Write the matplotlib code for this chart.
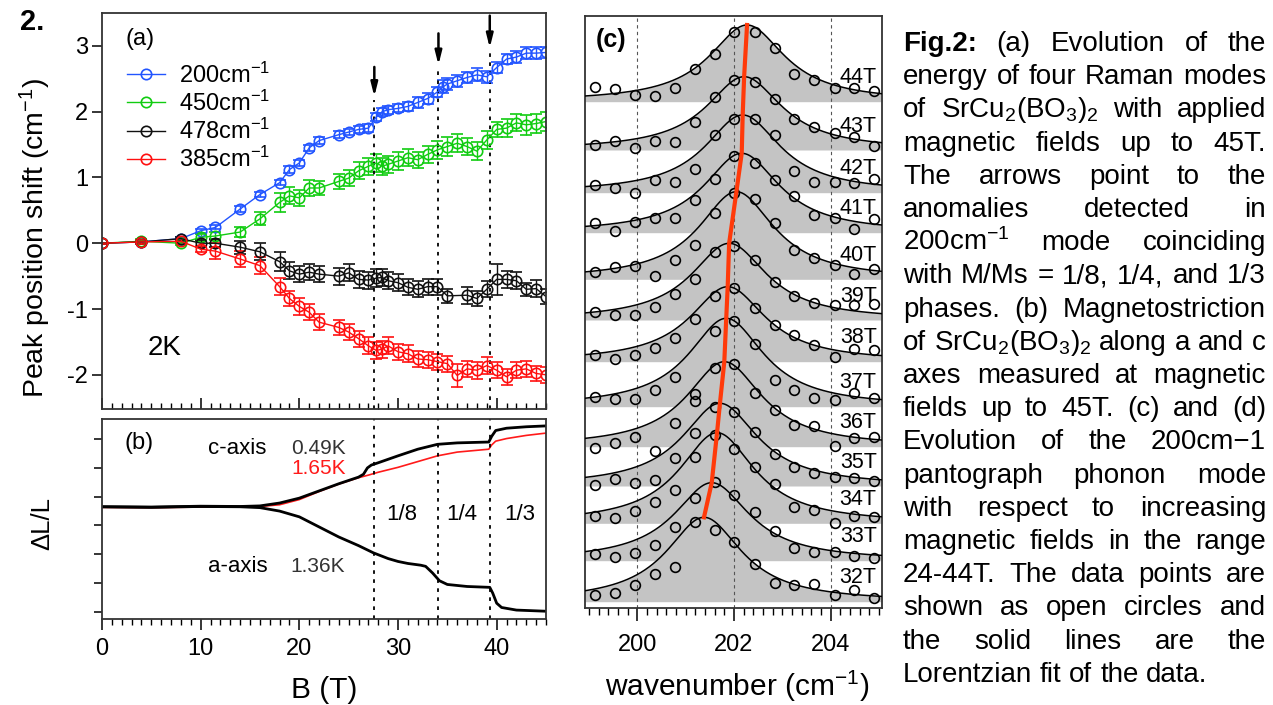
import numpy as np
import matplotlib.pyplot as plt
from matplotlib.lines import Line2D
from matplotlib.ticker import MultipleLocator

plt.rcParams['font.family'] = ['Liberation Sans', 'DejaVu Sans']
plt.rcParams['mathtext.fontset'] = 'custom'
plt.rcParams['mathtext.rm'] = 'Liberation Sans'
plt.rcParams['mathtext.it'] = 'Liberation Sans:italic'
plt.rcParams['mathtext.bf'] = 'Liberation Sans:bold'
plt.rcParams['axes.unicode_minus'] = False

# ---------------- panel (a): peak position shift vs field ----------------
b200_x = [0, 4, 8, 10, 11.5, 14, 16, 18, 19, 20, 21, 22, 24, 25, 26, 27, 27.8, 28.4, 29, 30,
          31, 32, 33, 34, 34.6, 35, 36, 37, 38, 39, 40, 41, 42, 43, 44, 45]
b200_y = [0, 0.02, 0.07, 0.19, 0.24, 0.52, 0.74, 0.92, 1.12, 1.22, 1.45, 1.56, 1.65, 1.69, 1.73,
          1.75, 1.92, 2.0, 2.03, 2.05, 2.08, 2.14, 2.2, 2.3, 2.38, 2.42, 2.47, 2.52, 2.56, 2.53,
          2.67, 2.8, 2.83, 2.89, 2.89, 2.9]
b200_err = [0.01, 0.02, 0.03, 0.03, 0.03, 0.04, 0.04, 0.04, 0.05, 0.05, 0.05, 0.05, 0.05, 0.05,
            0.05, 0.06, 0.06, 0.06, 0.06, 0.06, 0.07, 0.08, 0.08, 0.08, 0.1, 0.09, 0.09, 0.09,
            0.1, 0.09, 0.08, 0.08, 0.09, 0.09, 0.09, 0.09]

b450_x = [0, 4, 8, 10, 11.5, 14, 16, 18, 19, 20, 21, 22, 24, 25, 26, 27, 27.8, 28.4, 29, 30,
          31, 32, 33, 34, 35, 36, 37, 38, 39, 40, 41, 42, 43, 44, 45]
b450_y = [0, 0.03, 0.0, 0.09, 0.11, 0.17, 0.37, 0.62, 0.72, 0.69, 0.84, 0.84, 0.94, 0.99, 1.1,
          1.17, 1.22, 1.17, 1.2, 1.25, 1.3, 1.27, 1.35, 1.42, 1.47, 1.52, 1.47, 1.4, 1.57, 1.73,
          1.75, 1.83, 1.8, 1.82, 1.85]
b450_err = [0.01, 0.03, 0.03, 0.05, 0.06, 0.08, 0.1, 0.14, 0.13, 0.12, 0.12, 0.1, 0.12, 0.12,
            0.13, 0.13, 0.14, 0.13, 0.13, 0.13, 0.13, 0.12, 0.13, 0.14, 0.14, 0.14, 0.13, 0.14,
            0.13, 0.12, 0.14, 0.13, 0.15, 0.14, 0.15]

b478_x = [0, 4, 8, 10, 11.5, 14, 16, 18, 19, 20, 21, 22, 24, 25, 26, 27, 27.8, 28.4, 29, 30,
          31, 32, 33, 34, 35, 37, 38, 39, 40, 41, 42, 43, 44, 45]
b478_y = [0, 0.02, 0.07, 0, 0, -0.06, -0.13, -0.28, -0.42, -0.47, -0.44, -0.47, -0.5, -0.45,
          -0.55, -0.56, -0.53, -0.52, -0.57, -0.6, -0.67, -0.7, -0.66, -0.66, -0.8, -0.79,
          -0.84, -0.7, -0.55, -0.55, -0.57, -0.7, -0.69, -0.81]
b478_err = [0.01, 0.03, 0.03, 0.05, 0.06, 0.1, 0.13, 0.14, 0.13, 0.12, 0.12, 0.12, 0.13, 0.13,
            0.13, 0.13, 0.14, 0.13, 0.13, 0.13, 0.12, 0.12, 0.12, 0.12, 0.11, 0.13, 0.12, 0.12,
            0.24, 0.13, 0.13, 0.1, 0.13, 0.12]

b385_x = [0, 4, 8, 10, 11.5, 14, 16, 18, 19, 20, 21, 22, 24, 25, 26, 27, 27.8, 28.4, 29, 30,
          31, 32, 33, 34, 35, 36, 37, 38, 39, 40, 41, 42, 43, 44, 45]
b385_y = [0, 0.02, 0.03, -0.09, -0.12, -0.24, -0.34, -0.66, -0.84, -0.96, -1.05, -1.2, -1.28,
          -1.35, -1.45, -1.56, -1.63, -1.61, -1.56, -1.65, -1.68, -1.76, -1.77, -1.8, -1.83,
          -2.01, -1.91, -1.93, -1.86, -1.93, -2.03, -1.93, -1.91, -1.98, -2.0]
b385_err = [0.01, 0.03, 0.03, 0.05, 0.12, 0.12, 0.13, 0.13, 0.12, 0.13, 0.12, 0.12, 0.12, 0.12,
            0.12, 0.13, 0.13, 0.13, 0.13, 0.12, 0.13, 0.12, 0.12, 0.12, 0.12, 0.18, 0.12, 0.13,
            0.13, 0.12, 0.12, 0.12, 0.12, 0.12, 0.12]

mode_labels = ['200cm$^{-1}$', '450cm$^{-1}$', '478cm$^{-1}$', '385cm$^{-1}$']
mode_colors = ['#2255ff', '#11cc11', '#111111', '#ff1010']

anomaly_B = [27.6, 34.1, 39.3]
arrow_top = [2.68, 3.19, 3.46]
arrow_tip = [2.23, 2.71, 2.97]

# ---------------- panel (b): magnetostriction ----------------
c049_B = [0, 5, 10, 14, 16, 18, 20, 22, 24, 26, 26.5, 26.9, 27.3, 28, 30, 32, 34, 36, 39.2,
          39.5, 39.9, 41, 43, 45]
c049_L = [3.65, 3.64, 3.67, 3.66, 3.68, 3.78, 3.95, 4.2, 4.45, 4.68, 4.78, 5.0, 5.1, 5.18, 5.42,
          5.65, 5.82, 5.87, 5.9, 6.1, 6.3, 6.38, 6.43, 6.46]
c165_B = [0, 5, 10, 14, 16, 18, 20, 22, 24, 26, 27, 28, 30, 32, 34, 36, 39.2, 39.5, 39.9, 41,
          43, 45]
c165_L = [3.63, 3.62, 3.64, 3.65, 3.66, 3.72, 3.9, 4.18, 4.44, 4.66, 4.75, 4.85, 5.02, 5.22,
          5.42, 5.55, 5.65, 5.8, 5.93, 6.02, 6.13, 6.21]
a136_B = [0, 5, 10, 14, 16, 18, 20, 22, 24, 26, 27.5, 29, 30, 31, 32.3, 32.8, 33.5, 34.2, 35,
          37, 39.3, 39.6, 40, 40.5, 42, 45]
a136_L = [3.65, 3.63, 3.66, 3.65, 3.62, 3.5, 3.3, 2.95, 2.6, 2.3, 2.05, 1.85, 1.75, 1.68, 1.62,
          1.58, 1.35, 1.08, 0.95, 0.88, 0.85, 0.65, 0.3, 0.15, 0.06, 0.02]

# ---------------- panel (c): 200 cm-1 spectra, Lorentzian fits ----------------
fields = ['44T', '43T', '42T', '41T', '40T', '39T', '38T', '37T', '36T', '35T', '34T', '33T', '32T']
offset = [50.43, 45.60, 41.33, 37.33, 32.67, 28.60, 24.43, 19.93, 15.93, 12.00, 8.27, 4.53, 0.43]
centre = [202.27, 202.21, 202.18, 202.16, 202.05, 201.90, 201.87, 201.84, 201.80, 201.71, 201.65,
          201.54, 201.38]
amp = [7.67, 7.33, 7.77, 7.94, 8.76, 7.67, 7.50, 8.84, 8.50, 8.27, 9.06, 7.80, 8.44]
hwhm = [0.95, 0.95, 0.95, 0.95, 0.95, 0.95, 0.95, 0.95, 0.95, 0.95, 0.95, 0.95, 0.95]
wn = [199.13, 199.54, 199.95, 200.37, 200.78, 201.19, 201.60, 202.01, 202.43, 202.84, 203.25,
      203.66, 204.08, 204.49, 204.90]
counts = [
    [1.5, 1.23, 0.67, 0.57, 1.33, 3.27, 4.73, 7.0, 6.93, 5.33, 2.77, 2.17, 1.33, 1.33, 1.1],
    [0.5, 0.93, 0.23, 0.93, 0.83, 2.77, 5.27, 7.0, 6.83, 5.1, 3.1, 2.27, 1.73, 1.33, 0.43],
    [0.77, 0.43, -0.07, 1.27, 1.03, 2.33, 5.77, 7.33, 7.37, 5.77, 2.2, 1.1, 1.1, 1.0, 1.33],
    [0.93, 0.2, 1.1, 1.45, 1.45, 3.3, 5.4, 7.7, 7.0, 5.3, 3.7, 1.8, 1.5, 0.4, 1.4],
    [0.7, 1.25, 1.35, 0.3, 1.9, 3.4, 6.6, 8.6, 8.0, 5.6, 2.9, 2.1, 1.4, 0.5, 1.0],
    [0.8, 0.5, 0.5, 1.3, 2.6, 4.1, 6.8, 7.4, 6.0, 3.8, 2.4, 1.7, 1.5, 1.5, 1.6],
    [0.67, 0.23, 0.67, 1.33, 2.4, 4.3, 6.6, 7.4, 5.4, 3.7, 2.7, 1.7, 0.5, 1.3, 1.2],
    [0.93, 0.77, 0.77, 1.67, 3.0, 1.3, 7.6, 8.6, 6.3, 2.7, 1.7, 0.9, 0.7, 1.4, 0.9],
    [-0.15, 0.4, 1.0, -0.4, 2.4, 4.6, 7.9, 8.3, 5.4, 3.7, 2.2, 2.1, 0.1, 0.85, 1.0],
    [0.1, 0.7, 0.3, 0.6, 2.8, 5.3, 7.9, 7.4, 5.4, 3.2, 1.9, 1.3, 0.9, 0.8, 0.5],
    [0.73, 0.5, 1.27, 2.17, 3.3, 6.6, 8.8, 7.4, 5.6, 3.9, 1.6, 1.33, 0.0, 0.73, 0.6],
    [0.67, 0.33, 0.73, 1.57, 3.4, 6.3, 7.9, 6.6, 4.9, 3.0, 1.3, 0.83, 0.9, 0.47, 0.3],
    [0.67, 0.9, 1.67, 2.77, 3.5, 8.0, 7.17, 5.93, 3.73, 1.83, 1.67, 1.77, 0.67, 1.17, 0.4],
]

caption = [
    "Fig.2: (a) Evolution of the",
    "energy of four Raman modes",
    "of SrCu$_2$(BO$_3$)$_2$ with applied",
    "magnetic fields up to 45T.",
    "The arrows point to the",
    "anomalies detected in",
    "200cm$^{-1}$ mode coinciding",
    "with M/Ms = 1/8, 1/4, and 1/3",
    "phases. (b) Magnetostriction",
    "of SrCu$_2$(BO$_3$)$_2$ along a and c",
    "axes measured at magnetic",
    "fields up to 45T. (c) and (d)",
    "Evolution of the 200cm\u22121",
    "pantograph phonon mode",
    "with respect to increasing",
    "magnetic fields in the range",
    "24-44T. The data points are",
    "shown as open circles and",
    "the solid lines are the",
    "Lorentzian fit of the data.",
]

W, H = 1273, 705
fig = plt.figure(figsize=(W / 100, H / 100), dpi=100)


def box(l, t, r, b):
    return [l / W, 1 - b / H, (r - l) / W, (b - t) / H]


ax_a = fig.add_axes(box(102, 13, 546, 409))
ax_b = fig.add_axes(box(102, 419, 546, 619))
ax_c = fig.add_axes(box(585, 16, 882, 608))

# ================= (a) =================
series = [(b200_x, b200_y, b200_err), (b450_x, b450_y, b450_err),
          (b478_x, b478_y, b478_err), (b385_x, b385_y, b385_err)]
for (x, y, e), col in zip(series, mode_colors):
    ax_a.errorbar(x, y, yerr=e, color=col, marker='o', mfc='none', mec=col, ms=7.5, mew=1.2,
                  lw=1.0, elinewidth=1.0, capsize=4, capthick=1.0)

handles = [Line2D([], [], color=c, marker='o', mfc='none', ms=7.5, mew=1.2, lw=1.0)
           for c in mode_colors]
ax_a.legend(handles, mode_labels, loc='upper left', bbox_to_anchor=(0.056, 0.875),
            frameon=False, fontsize=17, handlelength=1.6, handletextpad=0.6,
            labelspacing=0.12, borderpad=0, borderaxespad=0)

ax_a.set_xlim(0, 45)
ax_a.set_ylim(-2.52, 3.5)
ax_a.set_yticks([-2, -1, 0, 1, 2, 3])
ax_a.xaxis.set_major_locator(MultipleLocator(10))
ax_a.xaxis.set_minor_locator(MultipleLocator(1))
ax_a.tick_params(axis='x', which='major', direction='in', length=8, width=1.1, labelbottom=False)
ax_a.tick_params(axis='x', which='minor', direction='in', length=4, width=1.0)
ax_a.tick_params(axis='y', direction='out', length=7, width=1.1, labelsize=17, pad=3)

for xb, yt, yp in zip(anomaly_B, arrow_top, arrow_tip):
    ax_a.vlines(xb, -2.52, yp - 0.05, colors='k', linestyles=(0, (2, 3)), lw=1.3)
    ax_a.annotate('', xy=(xb, yp), xytext=(xb, yt),
                  arrowprops=dict(arrowstyle='-|>,head_length=0.8,head_width=0.2',
                                  color='k', lw=1.8, shrinkA=0, shrinkB=0))

ax_a.text(0.052, 0.935, '(a)', transform=ax_a.transAxes, fontsize=17, va='center', ha='left')
ax_a.text(4.6, -1.59, '2K', fontsize=20, va='center', ha='left')

# ================= (b) =================
ax_b.plot(c165_B, c165_L, color='#ff1a1a', lw=1.2)
ax_b.plot(c049_B, c049_L, color='k', lw=2.0)
ax_b.plot(a136_B, a136_L, color='k', lw=2.0)
for xb in anomaly_B:
    ax_b.axvline(xb, color='k', ls=(0, (2, 3)), lw=1.3)

ax_b.set_xlim(0, 45)
ax_b.set_ylim(-0.25, 6.7)
ax_b.set_yticks(range(7))
ax_b.set_yticklabels([])
ax_b.xaxis.set_major_locator(MultipleLocator(10))
ax_b.xaxis.set_minor_locator(MultipleLocator(1))
ax_b.tick_params(axis='x', which='major', direction='out', length=8, width=1.1, labelsize=17,
                 pad=6)
ax_b.tick_params(axis='x', which='minor', direction='out', length=4, width=1.0)
ax_b.tick_params(axis='y', direction='out', length=6, width=1.1)

ax_b.text(2.3, 5.87, '(b)', fontsize=17, va='center', ha='left')
ax_b.text(10.75, 5.66, 'c-axis', fontsize=16, va='center', ha='left')
ax_b.text(19.2, 5.66, '0.49K', fontsize=15, va='center', ha='left', color='#333333')
ax_b.text(19.2, 4.97, '1.65K', fontsize=15, va='center', ha='left', color='#ff1a1a')
ax_b.text(10.75, 1.57, 'a-axis', fontsize=16, va='center', ha='left')
ax_b.text(19.1, 1.57, '1.36K', fontsize=15, va='center', ha='left', color='#333333')
for lab, xc in zip(['1/8', '1/4', '1/3'], [30.4, 36.5, 42.3]):
    ax_b.text(xc, 3.37, lab, fontsize=16, va='center', ha='center')

# ================= (c) =================
xs = np.linspace(198.92, 205.06, 500)
for k in range(len(fields)):
    g2 = hwhm[k] ** 2
    fit = offset[k] + amp[k] * g2 / ((xs - centre[k]) ** 2 + g2)
    ax_c.fill_between(xs, offset[k], fit, color='#c4c4c4', lw=0, zorder=1)
    ax_c.plot(xs, fit, color='k', lw=1.1, zorder=3)
    pts = [offset[k] + v for v in counts[k]]
    ax_c.plot(wn, pts, ls='none', marker='o', mfc='none', mec='k', ms=7, mew=1.2, zorder=4)
    ax_c.text(204.95, offset[k] + 2.4, fields[k], fontsize=15.5, ha='right', va='center',
              zorder=6)

for xv in [200, 202, 204]:
    ax_c.axvline(xv, color='#555555', ls=(0, (3, 3)), lw=0.8, zorder=2)

peak_top = [o + a for o, a in zip(offset, amp)]
ax_c.plot(centre, peak_top, color='#ff3a0a', lw=3, zorder=5)

ax_c.set_xlim(198.92, 205.06)
ax_c.set_ylim(-0.2, 59)
ax_c.set_yticks([])
ax_c.set_xticks([200, 202, 204])
ax_c.xaxis.set_minor_locator(MultipleLocator(0.2))
ax_c.tick_params(axis='x', which='major', direction='out', length=9, width=1.1, labelsize=17,
                 pad=10)
ax_c.tick_params(axis='x', which='minor', direction='out', length=5, width=1.0)
ax_c.text(0.035, 0.96, '(c)', transform=ax_c.transAxes, fontsize=18, fontweight='bold',
          va='center', ha='left')

for ax in (ax_a, ax_b, ax_c):
    for sp in ax.spines.values():
        sp.set_linewidth(1.3)
        sp.set_color('#333333')

# ================= figure-level text =================
fig.text(20 / W, 1 - 22 / H, '2.', fontsize=21, fontweight='bold', va='center', ha='left')
fig.text(35 / W, 1 - 238 / H, 'Peak position shift (cm$^{-1}$)', fontsize=20.5, rotation=90,
         ha='center', va='center')
fig.text(42 / W, 1 - 523 / H, '\u0394L/L', fontsize=18.5, rotation=90, ha='center', va='center')
fig.text(324 / W, 1 - 690 / H, 'B (T)', fontsize=21.5, ha='center', va='center')
fig.text(737 / W, 1 - 686 / H, 'wavenumber (cm$^{-1}$)', fontsize=21.5, ha='center', va='center')

# justified caption on the right
fig.canvas.draw()
renderer = fig.canvas.get_renderer()
left_px, right_px = 903, 1266
cap_size = 20
for i, line in enumerate(caption):
    words = line.split(' ')
    ybase = 1 - (51 + 33.2 * i) / H
    texts = []
    for w in words:
        weight = 'bold' if w == 'Fig.2:' else 'normal'
        texts.append(fig.text(0, ybase, w, fontsize=cap_size, fontweight=weight, va='baseline',
                              ha='left'))
    widths = [t.get_window_extent(renderer).width for t in texts]
    if i == len(caption) - 1:
        gap = 0.278 * cap_size * 100 / 72
    else:
        gap = max((right_px - left_px - sum(widths)) / (len(words) - 1), 3)
    xpos = left_px
    for t, w in zip(texts, widths):
        t.set_x(xpos / W)
        xpos += w + gap

fig.savefig('out.png', dpi=100, facecolor='white')
